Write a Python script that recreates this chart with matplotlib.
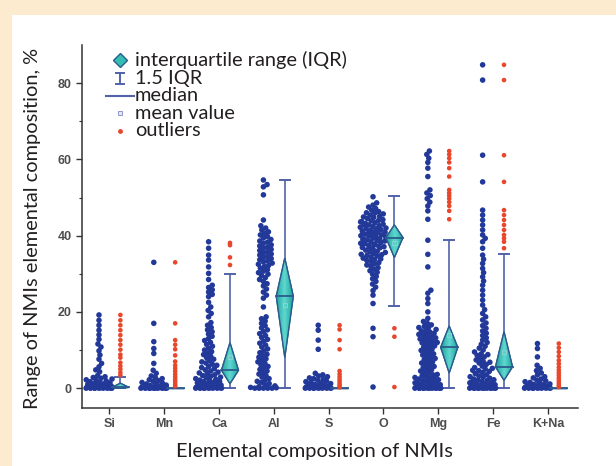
import numpy as np
import matplotlib
matplotlib.use('Agg')
import matplotlib.pyplot as plt
from matplotlib.patches import Polygon, Rectangle
from matplotlib.colors import LinearSegmentedColormap

# elements on the x axis
elements = ['Si', 'Mn', 'Ca', 'Al', 'S', 'O', 'Mg', 'Fe', 'K+Na']

# measured content of each element in the inclusions, %
si_vals = [19.2, 17.8, 16.5, 15.2, 14.0, 12.8, 11.6, 10.8, 9.8, 8.7, 7.6, 6.5, 5.6, 4.8, 4.3,
           3.3, 3.0, 2.8, 2.6, 2.4, 2.2, 2.0, 1.9, 1.7, 1.5, 1.4, 1.2, 1.1, 1.0, 0.9, 0.8,
           0.7, 0.6, 0.5, 0.5, 0.4, 0.4, 0.3, 0.3, 0.3, 0.2, 0.2, 0.2, 0.1, 0.1, 0.1,
           0.0, 0.0, 0.0, 0.0, 0.0, 0.0, 0.0, 0.0, 0.0]
mn_vals = [33.0, 17.0, 12.2, 10.4, 9.1, 6.5, 4.7, 3.9, 3.2, 2.8, 2.5, 2.2, 2.0, 1.8, 1.5,
           1.3, 1.1, 1.0, 0.8, 0.7, 0.6, 0.5, 0.4, 0.3, 0.3, 0.2, 0.2, 0.1, 0.1, 0.1,
           0.0, 0.0, 0.0, 0.0, 0.0, 0.0, 0.0, 0.0, 0.0, 0.0]
ca_vals = [38.4, 36.7, 34.9, 33.6, 31.8, 30.1, 28.5, 27.0, 26.4, 25.8, 25.2, 24.6, 24.0,
           22.5, 21.3, 20.4, 19.6, 18.7, 17.2, 16.5, 15.9, 15.3, 14.8, 14.2, 13.6, 13.0,
           12.5, 12.0, 11.5, 11.0, 10.5, 10.0, 9.6, 9.2, 8.8, 8.4, 8.0, 7.6, 7.2, 6.9,
           6.6, 6.3, 6.0, 5.7, 5.4, 5.1, 4.8, 4.5, 4.2, 4.0, 3.8, 3.5, 3.3, 3.1, 2.9,
           2.7, 2.5, 2.3, 2.1, 2.0, 1.8, 1.7, 1.5, 1.4, 1.2, 1.1, 1.0, 0.9, 0.8, 0.7,
           0.6, 0.5, 0.5, 0.4, 0.4, 0.3, 0.3, 0.2, 0.2, 0.1, 0.1, 0.1,
           0.0, 0.0, 0.0, 0.0, 0.0, 0.0, 0.0, 0.0]
al_vals = [54.6, 53.4, 52.8, 50.7, 44.1, 42.6, 42.0, 41.5, 41.0, 40.6, 40.2, 39.8, 39.4,
           39.0, 38.6, 38.3, 38.0, 37.6, 37.3, 37.0, 36.7, 36.4, 36.1, 35.8, 35.5, 35.2,
           34.9, 34.6, 34.3, 34.0, 33.7, 33.4, 33.1, 32.8, 32.5, 32.2, 31.9, 31.5, 31.1,
           30.7, 30.3, 29.9, 29.5, 29.0, 28.5, 28.0, 27.4, 26.8, 26.0, 25.2, 24.4, 23.6,
           21.3, 18.7, 18.2, 17.6, 17.0, 16.4, 15.8, 15.3, 14.8, 14.3, 13.8, 13.3, 12.8,
           12.3, 11.8, 11.3, 10.8, 10.3, 9.8, 9.3, 8.9, 8.5, 8.1, 7.7, 7.3, 6.9, 6.5,
           6.1, 5.7, 5.3, 4.9, 4.5, 4.1, 3.7, 3.3, 2.9, 2.5, 2.1, 1.8, 1.5, 1.2, 0.9,
           0.6, 0.4, 0.2, 0.1, 0.0, 0.0, 0.0, 0.0, 0.0]
s_vals = [16.5, 15.2, 12.6, 10.2, 3.9, 3.5, 3.2, 3.0, 2.7, 2.5, 2.3, 2.1, 1.9, 1.7, 1.5,
          1.3, 1.2, 1.0, 0.9, 0.8, 0.7, 0.6, 0.5, 0.4, 0.3, 0.3, 0.2, 0.2, 0.1, 0.1,
          0.0, 0.0, 0.0, 0.0, 0.0, 0.0, 0.0, 0.0]
o_vals = [50.2, 48.6, 48.0, 47.5, 47.1, 46.7, 46.3, 46.0, 45.9, 45.7, 45.4, 45.1, 44.9,
          44.8, 44.5, 44.2, 44.0, 43.9, 43.7, 43.6, 43.4, 43.2, 43.0, 42.9, 42.8, 42.6,
          42.4, 42.2, 42.0, 41.9, 41.8, 41.6, 41.4, 41.2, 41.1, 41.0, 40.9, 40.8, 40.6,
          40.4, 40.2, 40.0, 39.9, 39.8, 39.6, 39.4, 39.2, 39.1, 39.0, 38.9, 38.8, 38.6,
          38.4, 38.2, 38.0, 37.9, 37.8, 37.6, 37.4, 37.2, 37.1, 37.0, 36.9, 36.8, 36.5,
          36.2, 35.9, 35.8, 35.6, 35.3, 35.1, 35.0, 34.8, 34.7, 34.4, 34.1, 33.9, 33.8,
          33.5, 33.2, 32.9, 32.6, 32.3, 32.0, 31.6, 31.2, 30.8, 30.4, 29.9, 29.3, 28.7,
          28.0, 27.3, 26.5, 25.6, 24.4, 22.2, 15.7, 13.5, 0.3]
mg_vals = [62.2, 61.3, 60.3, 59.2, 57.7, 55.5, 52.0, 51.2, 50.5, 49.7, 48.8, 47.8, 46.5,
           44.3, 38.8, 35.1, 31.8, 25.7, 24.9, 23.5, 22.2, 20.0, 18.3, 17.5, 17.0, 16.6,
           16.2, 15.9, 15.8, 15.4, 15.0, 14.9, 14.7, 14.4, 14.1, 13.9, 13.8, 13.5, 13.2,
           12.9, 12.8, 12.6, 12.3, 12.0, 11.9, 11.7, 11.4, 11.1, 10.8, 10.5, 10.2, 9.9,
           9.6, 9.3, 9.0, 8.7, 8.4, 8.1, 7.8, 7.5, 7.2, 6.9, 6.6, 6.3, 6.0, 5.7, 5.4,
           5.1, 4.8, 4.5, 4.2, 3.9, 3.6, 3.5, 3.3, 3.0, 2.8, 2.6, 2.5, 2.4, 2.2, 2.0,
           1.8, 1.6, 1.5, 1.4, 1.2, 1.1, 1.0, 0.9, 0.8, 0.7, 0.6, 0.5, 0.5, 0.4, 0.3,
           0.2, 0.1, 0.0, 0.0, 0.0, 0.0, 0.0, 0.0, 0.0, 0.0, 0.0, 0.0, 0.0, 0.0]
fe_vals = [84.8, 80.8, 61.1, 54.1, 46.7, 45.4, 44.1, 42.8, 41.5, 40.2, 39.3, 38.4, 36.7,
           34.9, 33.8, 32.7, 31.4, 30.3, 29.2, 28.1, 27.0, 25.7, 24.4, 23.1, 21.8, 20.6,
           19.6, 18.7, 17.9, 17.1, 16.4, 15.7, 15.0, 14.4, 13.8, 13.2, 12.6, 12.0, 11.5,
           11.0, 10.5, 10.0, 9.5, 9.0, 8.8, 8.6, 8.2, 7.8, 7.4, 7.0, 6.8, 6.6, 6.2, 5.8,
           5.4, 5.2, 5.0, 4.7, 4.6, 4.4, 4.1, 3.8, 3.5, 3.2, 3.0, 2.9, 2.6, 2.4, 2.2,
           2.1, 2.0, 1.8, 1.6, 1.4, 1.3, 1.2, 1.0, 0.9, 0.8, 0.7, 0.6, 0.6, 0.5, 0.4,
           0.3, 0.2, 0.1, 0.0, 0.0, 0.0, 0.0, 0.0, 0.0, 0.0, 0.0, 0.0, 0.0, 0.0, 0.0]
kna_vals = [11.7, 10.4, 8.2, 6.0, 5.2, 4.6, 4.0, 3.5, 3.0, 2.7, 2.4, 2.1, 1.9, 1.7, 1.5,
            1.3, 1.1, 1.0, 0.9, 0.8, 0.7, 0.6, 0.5, 0.4, 0.3, 0.3, 0.2, 0.2, 0.1, 0.1,
            0.0, 0.0, 0.0, 0.0, 0.0, 0.0, 0.0, 0.0]
all_vals = [si_vals, mn_vals, ca_vals, al_vals, s_vals, o_vals, mg_vals, fe_vals, kna_vals]

# box statistics per element
q1 = [0.0, 0.0, 1.2, 8.1, 0.0, 34.3, 4.0, 2.1, 0.0]
median = [0.2, 0.0, 4.7, 24.1, 0.0, 39.5, 10.7, 5.6, 0.0]
q3 = [1.3, 0.0, 11.9, 34.1, 0.0, 42.8, 16.3, 14.8, 0.0]
mean = [0.8, 0.9, 8.2, 21.8, 1.5, 38.0, 13.9, 9.5, 1.2]
whisk_lo = [0.0, 0.0, 0.0, 0.0, 0.0, 21.6, 0.0, 0.0, 0.0]
whisk_hi = [2.8, 0.0, 29.9, 54.6, 0.0, 50.4, 38.8, 35.3, 0.0]

# values beyond the whiskers
outliers = [
    [19.2, 17.8, 16.5, 15.2, 13.9, 12.6, 11.4, 10.1, 8.8, 8.0, 6.7, 5.8, 5.0, 4.1, 3.4],
    [33.0, 17.0, 12.6, 11.4, 10.2, 8.6, 7.0, 6.0, 5.2, 4.4, 3.6, 2.9, 2.2, 1.6, 1.0, 0.5],
    [38.1, 37.5, 34.3, 32.3],
    [],
    [16.5, 15.4, 12.6, 10.2, 4.5, 3.7, 3.0, 2.3, 1.7, 1.1, 0.6, 0.2],
    [15.7, 13.5, 0.3],
    [62.2, 61.3, 60.3, 59.2, 57.7, 55.5, 52.0, 51.2, 50.5, 49.7, 48.8, 47.8, 46.5, 44.3],
    [84.8, 80.8, 61.1, 54.1, 46.7, 45.4, 44.1, 42.8, 41.5, 40.2, 39.3, 38.4, 36.7],
    [11.7, 10.6, 9.5, 8.4, 7.3, 6.4, 5.5, 4.7, 4.0, 3.3, 2.6, 2.0, 1.4, 0.8, 0.3],
]

BLUE = '#22399a'
RED = '#e8472b'
TEAL = '#35bfb4'
EDGE = '#2c5b8e'
WHISK = '#5262aa'
INK = '#231f20'
GREY = '#4d4d4d'
FS = 14.4

# teal shading across the diamonds: darker edges, lighter middle
teal_cmap = LinearSegmentedColormap.from_list('teal', ['#1fa59c', '#5fd8d0', '#1fa59c'])

plt.rcParams['font.family'] = ['Lato', 'DejaVu Sans']

fig = plt.figure(figsize=(6.16, 4.66), dpi=100)
fig.patch.set_facecolor('#fdebcf')
fig.add_artist(Rectangle((12 / 616, 0), 1, 1 - 15 / 466, transform=fig.transFigure,
                         facecolor='white', edgecolor='none', zorder=0))

ax = fig.add_axes([82 / 616, 58 / 466, 496 / 616, 363 / 466])
ax.set_facecolor('none')
ax.set_xlim(0.5, 9.55)
ax.set_ylim(-5.2, 90)

# pixel scale of the data axes, used to lay out the swarms
XPX = 496 / (9.55 - 0.5)
YPX = 363 / (90 + 5.2)


def swarm_offsets(vals, d=4.3, wmax=13.0):
    ys = np.asarray(vals, dtype=float) * YPX
    order = np.argsort(ys, kind='stable')
    xs = np.zeros(len(ys))
    placed = []
    for k, i in enumerate(order):
        y = ys[i]
        near = [(px, py) for px, py in placed if abs(py - y) < d]
        cands = [0.0]
        for px, py in near:
            dx = np.sqrt(d * d - (py - y) ** 2)
            cands += [px + dx, px - dx]
        cands.sort(key=abs)
        x = None
        for c in cands:
            if abs(c) > wmax:
                continue
            if all((c - px) ** 2 + (y - py) ** 2 >= d * d - 1e-6 for px, py in near):
                x = c
                break
        if x is None:
            # band is full: spread the rest evenly across it
            x = ((k * 0.618034) % 1.0 * 2 - 1) * wmax
        xs[i] = x
        placed.append((x, y))
    return xs / XPX


hw = 8.5 / XPX     # half width of the diamonds
cw = 5.0 / XPX     # half width of whisker caps
shade = np.linspace(0, 1, 64).reshape(1, -1)

for i, vals in enumerate(all_vals):
    pos = i + 1
    sx = pos - 0.19 + swarm_offsets(vals)
    ax.scatter(sx, vals, s=16, color=BLUE, edgecolors='none', zorder=3)

    bx = pos + 0.2
    # whiskers
    if whisk_hi[i] > whisk_lo[i]:
        ax.plot([bx, bx], [whisk_lo[i], whisk_hi[i]], color=WHISK, lw=1.2, zorder=2)
        for w in (whisk_lo[i], whisk_hi[i]):
            ax.plot([bx - cw, bx + cw], [w, w], color=WHISK, lw=1.4, zorder=2)
    # IQR diamond
    corners = [(bx, q3[i]), (bx + hw, median[i]), (bx, q1[i]), (bx - hw, median[i])]
    diamond = Polygon(corners, closed=True, facecolor=TEAL, edgecolor=EDGE, lw=1.0,
                      zorder=4)
    ax.add_patch(diamond)
    if q3[i] > q1[i]:
        img = ax.imshow(shade, cmap=teal_cmap, aspect='auto', zorder=4.1,
                        extent=[bx - hw, bx + hw, q1[i], q3[i]], interpolation='bilinear')
        img.set_clip_path(diamond)
        ax.add_patch(Polygon(corners, closed=True, facecolor='none', edgecolor=EDGE,
                             lw=1.0, zorder=4.2))
    ax.plot([bx - hw, bx + hw], [median[i], median[i]], color=EDGE, lw=1.3, zorder=5)
    if q3[i] - q1[i] > 5:
        ax.scatter([bx], [mean[i]], s=10, marker='s', facecolor='none',
                   edgecolors='#8fd6d2', linewidths=0.6, zorder=6)
    if outliers[i]:
        ax.scatter([bx] * len(outliers[i]), outliers[i], s=11, color=RED,
                   edgecolors='none', zorder=6)

ax.set_xlim(0.5, 9.55)
ax.set_ylim(-5.2, 90)

# axes styling
for side in ('top', 'right'):
    ax.spines[side].set_visible(False)
for side in ('left', 'bottom'):
    ax.spines[side].set_color('#333333')
    ax.spines[side].set_linewidth(1.1)

ax.set_xticks(range(1, 10))
ax.set_xticklabels(elements)
ax.set_yticks([0, 20, 40, 60, 80])
ax.set_yticks([10, 30, 50, 70], minor=True)
ax.tick_params(axis='both', which='major', direction='out', length=4, width=1.0,
               color='#333333', labelcolor=GREY, labelsize=9, pad=3.5)
ax.tick_params(axis='y', which='minor', direction='out', length=2.5, width=0.8,
               color='#333333')
for lab in ax.get_xticklabels() + ax.get_yticklabels():
    lab.set_family(['Liberation Sans', 'DejaVu Sans'])
    lab.set_fontweight('bold')

ax.set_xlabel('Elemental composition of NMIs', fontsize=FS, color=INK)
ax.set_ylabel('Range of NMIs elemental composition, %', fontsize=FS, color=INK)
ax.xaxis.set_label_coords((314 - 82) / 496, (408 - 452) / 363)
ax.yaxis.set_label_coords((33 - 82) / 496, (408 - 228) / 363)
ax.xaxis.label.set_va('center')
ax.yaxis.label.set_va('center')


# legend drawn by hand in axes fraction
def ax_pt(xp, yp):
    return (xp - 82) / 496, (408 - yp) / 363


rows = [60, 78, 95.5, 113, 130.5]
labels = ['interquartile range (IQR)', '1.5 IQR', 'median', 'mean value', 'outliers']
mx, _ = ax_pt(120, 0)
tx, _ = ax_pt(135, 0)
ys = [ax_pt(0, r)[1] for r in rows]

ax.plot([mx], [ys[0]], marker='D', ms=7, mfc=TEAL, mec=EDGE, mew=1.0,
        transform=ax.transAxes, clip_on=False)
ibar_h = 5.5 / 363
ibar_w = 4.0 / 496
ax.plot([mx, mx], [ys[1] - ibar_h, ys[1] + ibar_h], color=WHISK, lw=1.4,
        transform=ax.transAxes, clip_on=False)
for yy in (ys[1] - ibar_h, ys[1] + ibar_h):
    ax.plot([mx - ibar_w, mx + ibar_w], [yy, yy], color=WHISK, lw=1.4,
            transform=ax.transAxes, clip_on=False)
ax.plot([ax_pt(106, 0)[0], ax_pt(134, 0)[0]], [ys[2], ys[2]], color=WHISK, lw=1.5,
        transform=ax.transAxes, clip_on=False)
ax.plot([mx], [ys[3]], marker='s', ms=3.5, mfc='#e6e8f2', mec='#8d96c4', mew=0.7,
        transform=ax.transAxes, clip_on=False)
ax.plot([mx], [ys[4]], marker='o', ms=3.5, mfc=RED, mec='none',
        transform=ax.transAxes, clip_on=False)
for yy, lab in zip(ys, labels):
    ax.text(tx, yy, lab, transform=ax.transAxes, fontsize=FS, color=INK,
            ha='left', va='center')

fig.savefig('out.png', dpi=100, facecolor=fig.get_facecolor())
